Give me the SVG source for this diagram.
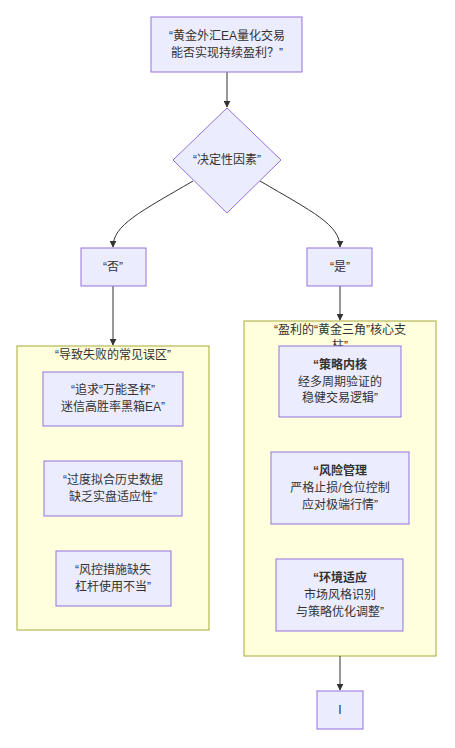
<svg xmlns="http://www.w3.org/2000/svg" width="455" height="748" viewBox="0 0 455 748">
<style>
.node rect,.node polygon{fill:#ECECFF;stroke:#9370DB;stroke-width:1}
.cluster rect{fill:#ffffde;stroke:#aaaa33;stroke-width:1}
text{font-family:"Liberation Sans","Noto Sans CJK SC",sans-serif;font-size:12px;fill:#333;text-anchor:middle;dominant-baseline:central}
.b{font-weight:bold}
.edge{fill:none;stroke:#333;stroke-width:1;marker-end:url(#arr)}
</style>
<defs>
<marker id="arr" viewBox="0 0 10 10" refX="9" refY="5" markerWidth="7" markerHeight="7" orient="auto" markerUnits="userSpaceOnUse">
<path d="M0,0 L10,5 L0,10 z" fill="#333"/>
</marker>
</defs>
<rect width="455" height="748" fill="#fff"/>
<g id="clusterNo" class="cluster">
<rect x="17" y="346" width="192" height="284"/>
<text x="113" y="355">“导致失败的常见误区”</text>
</g>
<g id="clusterYes" class="cluster">
<rect x="244" y="321" width="192" height="335"/>
<text x="340" y="330">“盈利的“黄金三角”核心支</text>
<text x="340" y="346">柱”</text>
</g>
<g id="edges">
<path class="edge" d="M227,72 L227,107"/>
<path class="edge" d="M193,181 C140,212 113,225 113,247"/>
<path class="edge" d="M260,181 C313,212 340,225 340,247"/>
<path class="edge" d="M113,286 L113,345"/>
<path class="edge" d="M340,286 L340,320"/>
<path class="edge" d="M340,656 L340,690"/>
</g>
<g id="start" class="node">
<rect x="151" y="17" width="151" height="55"/>
<text x="227" y="36">“黄金外汇EA量化交易</text>
<text x="227" y="53">能否实现持续盈利？”</text>
</g>
<g id="decision" class="node">
<polygon points="227,108 281,160 227,213 173,160"/>
<text x="227" y="160">“决定性因素”</text>
</g>
<g id="no" class="node">
<rect x="81" y="248" width="65" height="38"/>
<text x="113" y="267">“否”</text>
</g>
<g id="yes" class="node">
<rect x="307" y="248" width="65" height="38"/>
<text x="340" y="267">“是”</text>
</g>
<g id="m1" class="node">
<rect x="43" y="372" width="140" height="54"/>
<text x="113" y="390">“追求“万能圣杯”</text>
<text x="113" y="407">迷信高胜率黑箱EA”</text>
</g>
<g id="m2" class="node">
<rect x="44" y="461" width="138" height="55"/>
<text x="113" y="480">“过度拟合历史数据</text>
<text x="113" y="497">缺乏实盘适应性”</text>
</g>
<g id="m3" class="node">
<rect x="56" y="551" width="115" height="55"/>
<text x="113" y="570">“风控措施缺失</text>
<text x="113" y="587">杠杆使用不当”</text>
</g>
<g id="p1" class="node">
<rect x="279" y="346" width="122" height="71"/>
<text class="b" x="340" y="365">“策略内核</text>
<text x="340" y="382">经多周期验证的</text>
<text x="340" y="398">稳健交易逻辑”</text>
</g>
<g id="p2" class="node">
<rect x="271" y="452" width="138" height="72"/>
<text class="b" x="340" y="471">“风险管理</text>
<text x="340" y="488">严格止损/仓位控制</text>
<text x="340" y="505">应对极端行情”</text>
</g>
<g id="p3" class="node">
<rect x="276" y="559" width="127" height="72"/>
<text class="b" x="340" y="578">“环境适应</text>
<text x="340" y="595">市场风格识别</text>
<text x="340" y="612">与策略优化调整”</text>
</g>
<g id="end" class="node">
<rect x="317" y="691" width="46" height="38"/>
<text x="340" y="710" fill="#666">I</text>
</g>
</svg>
